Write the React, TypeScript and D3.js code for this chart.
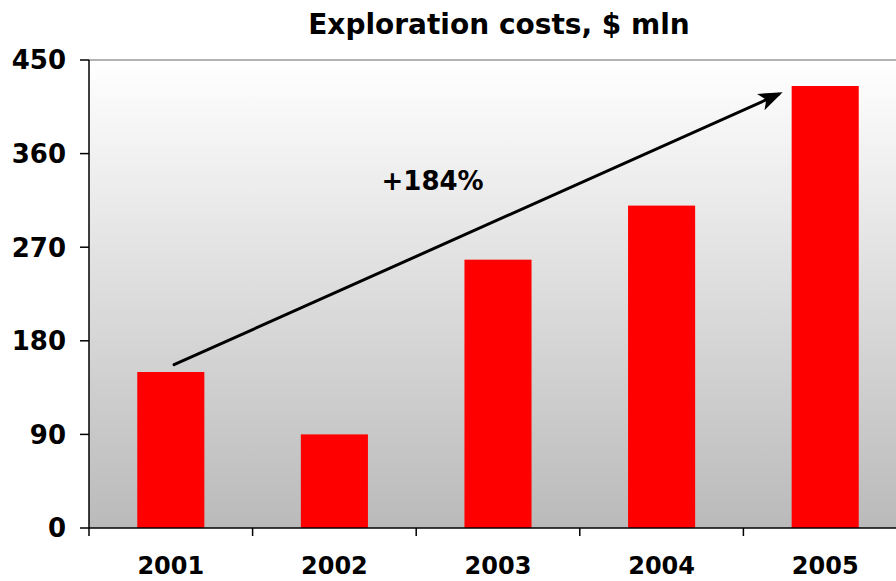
import React from "react";
import * as d3 from "d3";

const years = ["2001", "2002", "2003", "2004", "2005"];
const costs = [150, 90, 258, 310, 425];
const yTicks = [0, 90, 180, 270, 360, 450];
const title = "Exploration costs, $ mln";
const growthLabel = "+184%";
// arrow annotation in data coords: [category index offset, value]
const arrowFrom = [0.02, 157];
const arrowTo = [3.74, 419];
const labelAt = [1.6, 325];

const W = 896;
const H = 581;
const left = 89;
const right = 907;
const top = 60;
const bottom = 528;
const font = "'DejaVu Sans', Verdana, sans-serif";

export default function App() {
  const x = d3.scaleBand().domain(years).range([left, right]).paddingInner(0.59).paddingOuter(0.295);
  const xb = d3.scaleBand().domain(years).range([left, right]);
  const y = d3.scaleLinear().domain([0, 450]).range([bottom, top]);
  const xc = (v: number) => (xb(years[0]) as number) + xb.bandwidth() * (v + 0.5);

  const ax0 = xc(arrowFrom[0]);
  const ay0 = y(arrowFrom[1]);
  const ax1 = xc(arrowTo[0]);
  const ay1 = y(arrowTo[1]);

  return (
    <svg width={W} height={H} style={{ position: "absolute", left: 0, top: 0, display: "block" }} fontFamily={font}>
      <defs>
        <linearGradient id="bg" x1="0" y1="0" x2="0" y2="1">
          <stop offset="0" stopColor="#ffffff" />
          <stop offset="1" stopColor="#bababa" />
        </linearGradient>
        <marker id="ah" viewBox="0 0 24 18" refX="24" refY="9" markerWidth="24" markerHeight="18" markerUnits="userSpaceOnUse" orient="auto">
          <path d="M0,0 L24,9 L0,18 L6,9 Z" fill="#000" />
        </marker>
      </defs>
      <rect x={left} y={top} width={right - left} height={bottom - top} fill="url(#bg)" />
      <line x1={left} x2={right} y1={top} y2={top} stroke="#999" strokeWidth={1.5} />
      {years.map((yr, i) => (
        <rect key={yr} x={x(yr)} y={y(costs[i])} width={x.bandwidth()} height={bottom - y(costs[i])} fill="#ff0000" />
      ))}
      {/* y axis */}
      <line x1={left} x2={left} y1={top} y2={bottom} stroke="#000" strokeWidth={1.5} />
      {yTicks.map((t) => (
        <g key={t}>
          <line x1={left - 9} x2={left} y1={y(t)} y2={y(t)} stroke="#000" strokeWidth={1.5} />
          <text x={66} y={y(t)} dy="0.36em" textAnchor="end" fontWeight="bold" fontSize={26}>
            {t}
          </text>
        </g>
      ))}
      {/* x axis */}
      <line x1={left} x2={right} y1={bottom} y2={bottom} stroke="#000" strokeWidth={1.5} />
      {years.map((yr) => (
        <line key={"t" + yr} x1={xb(yr)} x2={xb(yr)} y1={bottom} y2={bottom + 8} stroke="#000" strokeWidth={1.5} />
      ))}
      {years.map((yr) => (
        <text key={"l" + yr} x={(xb(yr) as number) + xb.bandwidth() / 2} y={574} textAnchor="middle" fontWeight="bold" fontSize={24}>
          {yr}
        </text>
      ))}
      {/* arrow */}
      <line x1={ax0} y1={ay0} x2={ax1 - 4} y2={ay1 + 2} stroke="#000" strokeWidth={3} strokeLinecap="round" />
      <line x1={ax1 - 10} y1={ay1 + 4.5} x2={ax1} y2={ay1} stroke="none" markerEnd="url(#ah)" />
      <text x={xc(labelAt[0])} y={y(labelAt[1])} textAnchor="middle" fontWeight="bold" fontSize={26}>
        {growthLabel}
      </text>
      <text x={499} y={34} textAnchor="middle" fontWeight="bold" fontSize={28}>
        {title}
      </text>
    </svg>
  );
}
